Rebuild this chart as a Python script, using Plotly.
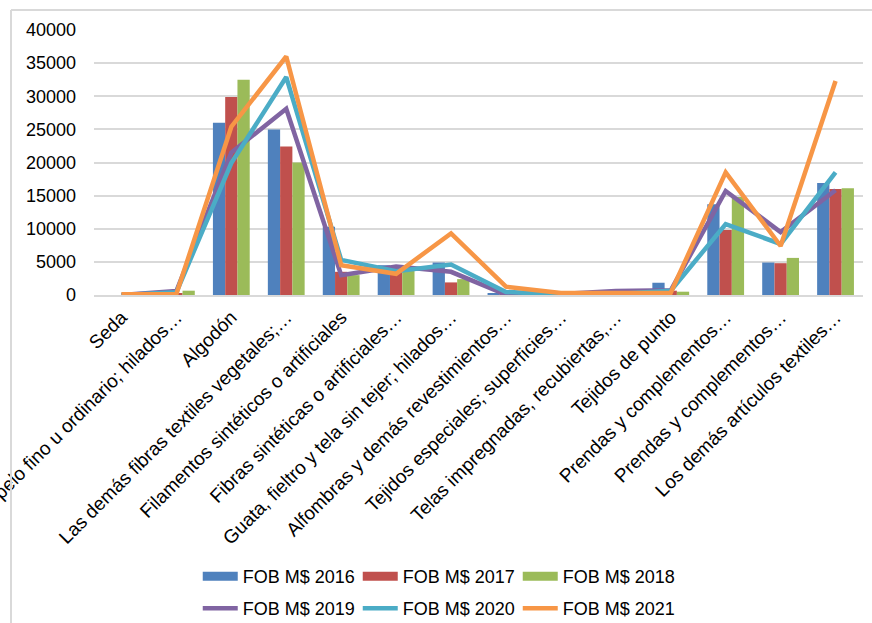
import plotly.graph_objects as go

categories = [
    "Seda",
    "pelo fino u ordinario; hilados…",
    "Algodón",
    "Las demás fibras textiles vegetales;…",
    "Filamentos sintéticos o artificiales",
    "Fibras sintéticas o artificiales…",
    "Guata, fieltro y tela sin tejer; hilados…",
    "Alfombras y demás revestimientos…",
    "Tejidos especiales; superficies…",
    "Telas impregnadas, recubiertas,…",
    "Tejidos de punto",
    "Prendas y complementos…",
    "Prendas y complementos…",
    "Los demás artículos textiles…",
]
positions = list(range(len(categories)))

fob_2016 = [0, 200, 26000, 25000, 10300, 4500, 4900, 300, 50, 100, 1850, 13700, 4900, 16900]
fob_2017 = [0, 300, 29900, 22400, 3500, 4400, 1900, 100, 50, 100, 650, 9800, 4800, 16000]
fob_2018 = [0, 650, 32500, 20000, 3000, 3800, 2400, 100, 50, 100, 500, 14800, 5600, 16100]
fob_2019 = [0, 600, 21500, 28100, 3000, 4300, 3500, 50, 150, 600, 700, 15700, 9500, 15800]
fob_2020 = [0, 400, 19900, 32900, 5300, 3600, 4600, 450, 100, 150, 650, 10700, 7700, 18500]
fob_2021 = [100, 150, 25400, 36000, 4500, 3200, 9300, 1250, 300, 300, 350, 18500, 7400, 32300]

y_ticks = [0, 5000, 10000, 15000, 20000, 25000, 30000, 35000, 40000]

bar_series = [("FOB M$ 2016", fob_2016, "#4F81BD"),
              ("FOB M$ 2017", fob_2017, "#C0504D"),
              ("FOB M$ 2018", fob_2018, "#9BBB59")]
line_series = [("FOB M$ 2019", fob_2019, "#8064A2"),
               ("FOB M$ 2020", fob_2020, "#4BACC6"),
               ("FOB M$ 2021", fob_2021, "#F79646")]

fig = go.Figure()
for name, vals, col in bar_series:
    fig.add_trace(go.Bar(x=positions, y=vals, name=name, marker_color=col,
                         marker_line_width=0, showlegend=False))
# legend swatches for bars (wide rectangles)
for name, vals, col in bar_series:
    fig.add_trace(go.Scatter(x=[None], y=[None], mode="lines", name=name,
                             line=dict(color=col, width=9), legend="legend"))
for name, vals, col in line_series:
    fig.add_trace(go.Scatter(x=positions, y=vals, mode="lines", name=name,
                             line=dict(color=col, width=4.5), legend="legend2"))

W, H = 872, 623
ml, mr, mt, mb = 94, 9, 30, 328
pw, ph = W - ml - mr, H - mt - mb

def px_x(x):
    return (x - ml) / pw

def px_y(y):
    return (H - mb - y) / ph

font = dict(family="Liberation Sans, Arial, sans-serif", size=18, color="#000000")
xfont = dict(family="Liberation Sans, Arial, sans-serif", size=19, color="#000000")

fig.update_layout(
    width=W, height=H,
    margin=dict(l=ml, r=mr, t=mt, b=mb, autoexpand=False),
    plot_bgcolor="white", paper_bgcolor="white",
    font=font,
    barmode="group", bargap=0.33, bargroupgap=0,
    xaxis=dict(
        range=[-0.5, len(categories) - 0.5],
        tickmode="array", tickvals=positions, ticktext=categories,
        tickangle=-45, showgrid=False, zeroline=False,
        showline=True, linecolor="#D9D9D9", linewidth=1.5,
        ticks="", tickfont=xfont, automargin=False,
        ticklabeloverflow="allow", ticklabelstandoff=2,
    ),
    yaxis=dict(
        range=[0, 40000], tickmode="array", tickvals=y_ticks,
        ticktext=[str(v) for v in y_ticks],
        showgrid=True, gridcolor="#D9D9D9", gridwidth=1.5,
        zeroline=False, showline=False, ticks="", tickfont=font,
        ticklabelstandoff=17, automargin=False,
    ),
    legend=dict(orientation="h", x=0.447, xanchor="center",
                y=px_y(558), yanchor="top", font=font,
                itemwidth=35, entrywidth=110, bgcolor="rgba(0,0,0,0)"),
    legend2=dict(orientation="h", x=0.447, xanchor="center",
                 y=px_y(590), yanchor="top", font=font,
                 itemwidth=35, entrywidth=110, bgcolor="rgba(0,0,0,0)"),
    shapes=[
        dict(type="line", xref="paper", yref="paper",
             x0=px_x(11), x1=px_x(880), y0=px_y(10), y1=px_y(10),
             line=dict(color="#D9D9D9", width=2)),
        dict(type="line", xref="paper", yref="paper",
             x0=px_x(11), x1=px_x(11), y0=px_y(10), y1=px_y(640),
             line=dict(color="#D9D9D9", width=2)),
    ],
)

fig.write_html("out.html", config={"displayModeBar": False},
               post_script="document.body.style.margin='0';document.body.style.overflow='hidden';")
